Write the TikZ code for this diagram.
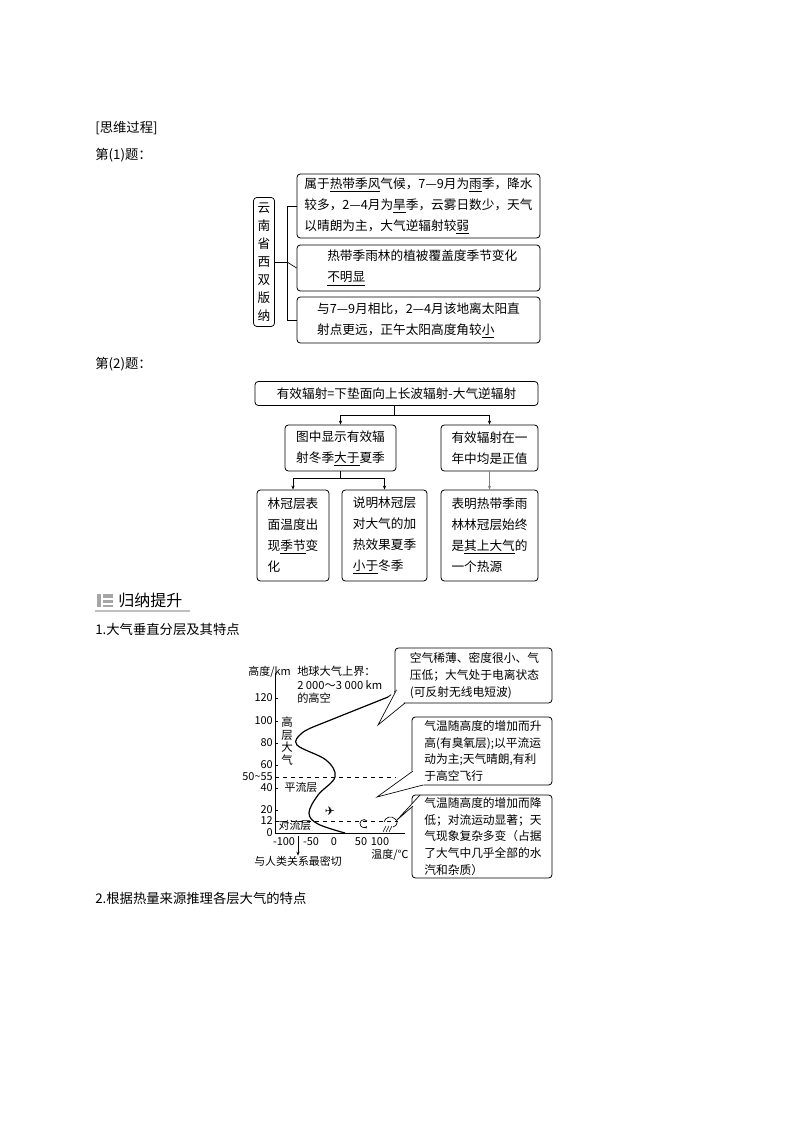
\documentclass[tikz,border=0pt]{standalone}
\usepackage{fontspec}
\setmainfont{Noto Sans CJK SC}
\usetikzlibrary{arrows.meta}
\begin{document}
\begin{tikzpicture}[x=0.75pt,y=-0.75pt,
  bx/.style={draw,rounded corners=2.5pt,line width=0.6pt,align=left,inner sep=0pt,font=\fontsize{9.5pt}{15.75pt}\selectfont},
  tx/.style={inner sep=0pt,font=\fontsize{10pt}{12pt}\selectfont,anchor=west},
  ct/.style={inner sep=0pt,font=\fontsize{8.2pt}{10pt}\selectfont},
  cb/.style={draw,rounded corners=2.5pt,line width=0.6pt,align=left,inner sep=0pt,font=\fontsize{8.8pt}{12.6pt}\selectfont},
  ar/.style={-{Stealth[length=3pt,width=2.5pt]},line width=0.5pt},
  ln/.style={line width=0.5pt}]
\useasboundingbox (0,0) rectangle (794,1123);
\node[tx] (h0) at (95,128) {[思维过程]};
\node[tx] (h1) at (95,155) {第(1)题：};
% part 1
\node[bx,minimum width=21*0.75pt,minimum height=129*0.75pt,align=center,font=\fontsize{9.5pt}{13.5pt}\selectfont] (yn) at (264,262) {云\\南\\省\\西\\双\\版\\纳};
\node[bx,minimum width=243*0.75pt,minimum height=64*0.75pt] (ba) at (418.5,206) {属于\underline{热带季风}气候，7—9月为\underline{雨}季，降水\\较多，2—4月为\underline{旱}季，云雾日数少，天气\\以晴朗为主，大气逆辐射较\underline{弱}};
\node[bx,minimum width=243*0.75pt,minimum height=46*0.75pt] (bb) at (418.5,268) {\hspace{0.6em}热带季雨林的植被覆盖度季节变化\\\hspace{0.6em}\underline{不明显}};
\node[bx,minimum width=243*0.75pt,minimum height=46*0.75pt] (bc) at (418.5,320) {与7—9月相比，2—4月该地离太阳直\\射点更远，正午太阳高度角较\underline{小}};
\coordinate (j1) at (287,262);
\draw[ln] (yn.east) -- (j1);
\draw[ln] (j1) |- (ba.west);
\draw[ln] (j1) |- (bc.west);
\draw[ln] (j1) -- (bb.west);
% part 2
\node[tx] (h2) at (95,364) {第(2)题：};
\node[bx,minimum width=283*0.75pt,minimum height=24*0.75pt,align=center] (t) at (396.5,393.5) {有效辐射=下垫面向上长波辐射-大气逆辐射};
\node[bx,minimum width=111*0.75pt,minimum height=46*0.75pt] (l2) at (340.5,448) {图中显示有效辐\\射冬季\underline{大于}夏季};
\node[bx,minimum width=97*0.75pt,minimum height=46*0.75pt] (r2) at (489.5,448) {有效辐射在一\\年中均是正值};
\node[bx,minimum width=72*0.75pt,minimum height=91*0.75pt] (ba2) at (293,535.5) {林冠层表\\面温度出\\现\underline{季节}变\\化};
\node[bx,minimum width=85*0.75pt,minimum height=91*0.75pt] (bb2) at (384.5,535.5) {说明林冠层\\对大气的加\\热效果夏季\\\underline{小于}冬季};
\node[bx,minimum width=97*0.75pt,minimum height=91*0.75pt] (bc2) at (489.5,535.5) {表明热带季雨\\林林冠层始终\\是\underline{其上大气}的\\一个热源};
\coordinate (j2) at (394,415);
\draw[ln] (t.south -| j2) -- (j2);
\draw[ar] (j2) -| (l2.north);
\draw[ar] (j2) -| (r2.north);
\coordinate (j3) at (340.5,478);
\draw[ln] (l2.south) -- (j3);
\draw[ar] (j3) -| (ba2.north);
\draw[ar] (j3) -| (bb2.north);
\draw[ar,gray,line width=0.8pt] (r2.south) -- (bc2.north);
% heading
\fill[gray!70] (97,594) rectangle (101,607);
\fill[gray!70] (103,594) rectangle (113,598);
\fill[gray!70] (103,600) rectangle (113,603);
\fill[gray!70] (103,605) rectangle (113,607);
\draw[gray!50,line width=1pt] (95,611) -- (190,611);
\node[tx,font=\fontsize{12pt}{14pt}\selectfont] (h3) at (118,600) {归纳提升};
\node[tx] (h4) at (95,629) {1.大气垂直分层及其特点};
% chart
\coordinate (o) at (275,833);
\coordinate (ytop) at (275,673);
\coordinate (xend) at (405,833);
\draw[ln] (ytop) -- (o) -- (xend);
\foreach \v/\y in {0/833,12/821,20/810,40/788,50{\char`~}55/777,60/765,80/743,100/721,120/698}{
  \draw[ln] (275,\y) -- (278,\y);
  \node[ct,anchor=east] at (273,\y) {\v};}
\foreach \v/\x in {-100/284,-50/311,0/334,50/361,100/380}{
  \node[ct] at (\x,842) {\v};}
\node[ct,anchor=east] (yl) at (291,672) {高度/km};
\node[ct,anchor=north west,align=left,font=\fontsize{8.4pt}{10pt}\selectfont] (top) at (297,666) {地球大气上界：\\2 000～3 000 km\\的高空};
\node[ct,align=center,font=\fontsize{8.6pt}{9.5pt}\selectfont] (gc) at (287,741) {高\\层\\大\\气};
\node[ct] (pl) at (301,787) {平流层};
\node[ct] (dl) at (295,825) {对流层};
\node[ct] (tl) at (390,855) {温度/℃};
\node[ct] (rl) at (298,861) {与人类关系最密切};
\draw[ar] (298,836) -- (rl.north);
\draw[dashed,line width=0.4pt] (275,777) -- (396,777);
\draw[dashed,line width=0.4pt] (275,821) -- (398,821);
\draw[line width=0.9pt] plot[smooth,tension=0.6] coordinates {(345,833) (318,824) (309,813) (318,795) (335,777) (326,760) (297,745) (302,733) (318,725)};
\draw[line width=0.9pt] (318,725) -- (388,697);
\draw[line width=0.6pt,dashed] (388,697) -- (397,690);
% plane, convection, cloud
\node[ct,font=\fontsize{9pt}{9pt}\selectfont] (pln) at (330,811) {\fontspec{DejaVu Sans}✈};
\draw[line width=0.5pt,-{Stealth[length=2pt]}] (367,821) arc (40:320:3pt);
\draw[line width=0.5pt] (384,822) .. controls (385,817) and (392,815) .. (395,819) .. controls (398,820) and (398,826) .. (393,827);
\foreach \i in {0,3,6}{\draw[line width=0.4pt] (386+\i,826) -- (383+\i,832);}
% callouts
\node[cb,minimum width=157*0.75pt,minimum height=55*0.75pt] (c1) at (473.5,675.5) {\,空气稀薄、密度很小、气\\\,压低；大气处于电离状态\\\,(可反射无线电短波)};
\node[cb,minimum width=140*0.75pt,minimum height=68*0.75pt] (c2) at (482,751) {\,气温随高度的增加而升\\\,高(有臭氧层);以平流运\\\,动为主;天气晴朗,有利\\\,于高空飞行};
\node[cb,minimum width=140*0.75pt,minimum height=83*0.75pt] (c3) at (482,836.5) {\,气温随高度的增加而降\\\,低；对流运动显著；天\\\,气现象复杂多变（占据\\\,了大气中几乎全部的水\\\,汽和杂质）};
\coordinate (p1) at (378,725);
\coordinate (p2) at (377,797);
\coordinate (p3) at (397,820);
\fill[white] (396,690) -- (p1) -- (404,703) -- cycle;
\draw[ln] (396,691) -- (p1) -- (405,703);
\fill[white] (413,770) -- (p2) -- (424,785) -- cycle;
\draw[ln] (413,771) -- (p2) -- (423,785);
\fill[white] (413,806) -- (p3) -- (420,795) -- cycle;
\draw[ln] (413,806) -- (p3) -- (420,795);
\node[tx] (h5) at (95,898) {2.根据热量来源推理各层大气的特点};
\end{tikzpicture}
\end{document}
